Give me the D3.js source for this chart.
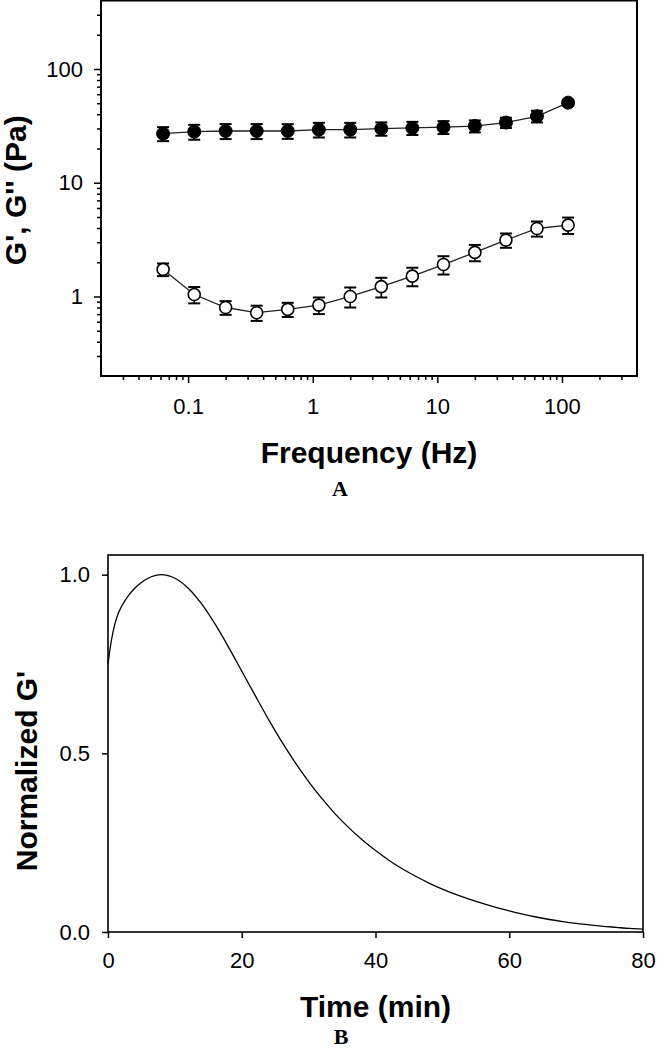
<!DOCTYPE html>
<html>
<head>
<meta charset="utf-8">
<script src="https://cdn.jsdelivr.net/npm/d3@7"></script>
<style>
  html, body { margin: 0; padding: 0; background: #fff; }
  svg { display: block; }
  text { font-family: "Liberation Sans", Arial, sans-serif; fill: #000; }
</style>
</head>
<body>
<script>
// ---------- Panel A data ----------
const freqHz = [0.063, 0.112, 0.2, 0.355, 0.63, 1.12, 2, 3.55, 6.3, 11.2, 20, 35.5, 63, 112];
const gPrime = [27.0, 28.1, 28.5, 28.5, 28.5, 29.3, 29.3, 29.9, 30.3, 30.8, 31.5, 33.8, 38.4, 50.6];
const gPrimeErr = [3.8, 4.2, 4.3, 4.3, 4.2, 4.3, 4.3, 4.0, 4.0, 4.0, 3.8, 3.5, 4.5, 3.0];
const gDouble = [1.73, 1.04, 0.80, 0.72, 0.77, 0.84, 1.0, 1.22, 1.51, 1.91, 2.44, 3.13, 3.96, 4.24];
const gDoubleErr = [0.22, 0.17, 0.11, 0.11, 0.11, 0.14, 0.2, 0.24, 0.28, 0.35, 0.4, 0.45, 0.6, 0.7];
const freqTicks = [0.1, 1, 10, 100];
const modulusTicks = [1, 10, 100];

// ---------- Panel B data ----------
const timeMin = [0, 0.25, 0.5, 1, 1.5, 2, 3, 4, 5, 6, 7, 8, 9, 10, 12, 14, 16, 18, 20, 22, 24, 26, 28, 30,
                 32, 34, 36, 38, 40, 42, 44, 46, 48, 50, 52, 54, 56, 58, 60, 62, 64, 66, 68, 70, 72, 74, 76, 78, 80];
const normG = [0.75, 0.785, 0.815, 0.86, 0.89, 0.91, 0.94, 0.962, 0.978, 0.99, 0.997, 1.0, 0.997, 0.99,
               0.962, 0.918, 0.862, 0.798, 0.73, 0.662, 0.595, 0.532, 0.474, 0.421,
               0.373, 0.330, 0.292, 0.258, 0.228, 0.201, 0.177, 0.156, 0.137, 0.120, 0.105, 0.092, 0.080,
               0.069, 0.059, 0.050, 0.042, 0.035, 0.029, 0.024, 0.020, 0.016, 0.013, 0.010, 0.008];
const timeTicks = [0, 20, 40, 60, 80];
const normTicks = [0, 0.5, 1.0];

const W = 658, H = 1050;
const svg = d3.select("body").append("svg").attr("width", W).attr("height", H);
svg.append("rect").attr("width", W).attr("height", H).attr("fill", "#fff");

const TICK_FS = 22, TITLE_FS = 30;

// ================= Panel A =================
const A = { l: 101, r: 637, t: 0.5, b: 376 };
const xA = d3.scaleLog().domain([0.02, 400]).range([A.l, A.r]);
const yA = d3.scaleLog().domain([0.2, 400]).range([A.b, A.t]);

function minorTicks(lo, hi) {
  const out = [];
  for (let e = -3; e <= 3; e++) {
    for (let m = 1; m <= 9; m++) {
      const v = m * Math.pow(10, e);
      if (v >= lo * 0.999 && v <= hi * 1.001) out.push(v);
    }
  }
  return out;
}
const gA = svg.append("g");

gA.append("g").attr("transform", `translate(0,${A.b})`)
  .call(d3.axisBottom(xA).tickValues(minorTicks(0.02, 400).filter(v => !freqTicks.includes(v) && v > 0.0201 && v < 399)).tickSize(4).tickFormat(""))
  .call(g => g.select(".domain").remove())
  .call(g => g.selectAll("line").attr("stroke-width", 1.5));
gA.append("g").attr("transform", `translate(${A.l},0)`)
  .call(d3.axisLeft(yA).tickValues(minorTicks(0.2, 400).filter(v => !modulusTicks.includes(v) && v > 0.201 && v < 399)).tickSize(4).tickFormat(""))
  .call(g => g.select(".domain").remove())
  .call(g => g.selectAll("line").attr("stroke-width", 1.5));

gA.append("g").attr("transform", `translate(0,${A.b})`)
  .call(d3.axisBottom(xA).tickValues(freqTicks).tickSize(7).tickPadding(15).tickFormat(d => String(d)))
  .call(g => g.select(".domain").remove())
  .call(g => g.selectAll("line").attr("stroke-width", 1.5))
  .call(g => g.selectAll("text").attr("font-size", TICK_FS).attr("font-family", "Liberation Sans, Arial, sans-serif"));
gA.append("g").attr("transform", `translate(${A.l},0)`)
  .call(d3.axisLeft(yA).tickValues(modulusTicks).tickSize(7).tickPadding(11).tickFormat(d => String(d)))
  .call(g => g.select(".domain").remove())
  .call(g => g.selectAll("line").attr("stroke-width", 1.5))
  .call(g => g.selectAll("text").attr("font-size", TICK_FS).attr("font-family", "Liberation Sans, Arial, sans-serif"));

gA.append("rect").attr("x", A.l).attr("y", A.t).attr("width", A.r - A.l).attr("height", A.b - A.t)
  .attr("fill", "none").attr("stroke", "#000").attr("stroke-width", 2);

const lineA = (vals) => d3.line().x((d, i) => xA(freqHz[i])).y(d => yA(d))(vals);

function drawSeries(vals, errs, filled) {
  const g = gA.append("g");
  g.append("path").attr("d", lineA(vals)).attr("fill", "none").attr("stroke", "#222").attr("stroke-width", 1.3);
  const eb = g.selectAll(".eb").data(vals).enter().append("g");
  eb.append("line")
    .attr("x1", (d, i) => xA(freqHz[i])).attr("x2", (d, i) => xA(freqHz[i]))
    .attr("y1", (d, i) => yA(d + errs[i])).attr("y2", (d, i) => yA(d - errs[i]))
    .attr("stroke", "#000").attr("stroke-width", 1.6);
  [1, -1].forEach(s => {
    eb.append("line")
      .attr("x1", (d, i) => xA(freqHz[i]) - 6).attr("x2", (d, i) => xA(freqHz[i]) + 6)
      .attr("y1", (d, i) => yA(d + s * errs[i])).attr("y2", (d, i) => yA(d + s * errs[i]))
      .attr("stroke", "#000").attr("stroke-width", 2);
  });
  g.selectAll("circle").data(vals).enter().append("circle")
    .attr("cx", (d, i) => xA(freqHz[i])).attr("cy", d => yA(d))
    .attr("r", filled ? 6.5 : 6)
    .attr("fill", filled ? "#000" : "#fff")
    .attr("stroke", "#000").attr("stroke-width", filled ? 1 : 1.6);
}
drawSeries(gPrime, gPrimeErr, true);
drawSeries(gDouble, gDoubleErr, false);

gA.append("text").attr("transform", `translate(26,${(A.t + A.b) / 2 + 2}) rotate(-90)`)
  .attr("text-anchor", "middle").attr("font-size", TITLE_FS).attr("font-weight", "bold")
  .text("G', G'' (Pa)");
gA.append("text").attr("x", (A.l + A.r) / 2).attr("y", 463)
  .attr("text-anchor", "middle").attr("font-size", TITLE_FS).attr("font-weight", "bold")
  .text("Frequency (Hz)");
gA.append("text").attr("x", 340).attr("y", 496)
  .attr("text-anchor", "middle").attr("font-size", 22).attr("font-weight", "bold")
  .style("font-family", "Liberation Serif, Times New Roman, serif")
  .text("A");

// ================= Panel B =================
const B = { l: 108, r: 643, t: 555, b: 932 };
const xB = d3.scaleLinear().domain([0, 80]).range([B.l, B.r]);
const yB = d3.scaleLinear().domain([0, 1.055]).range([B.b, B.t]);
const gB = svg.append("g");

gB.append("g").attr("transform", `translate(0,${B.b})`)
  .call(d3.axisBottom(xB).tickValues(timeTicks).tickSize(6).tickPadding(14).tickFormat(d3.format("d")))
  .call(g => g.select(".domain").remove())
  .call(g => g.selectAll("line").attr("stroke-width", 1.5))
  .call(g => g.selectAll("text").attr("font-size", TICK_FS).attr("font-family", "Liberation Sans, Arial, sans-serif"));
gB.append("g").attr("transform", `translate(${B.l},0)`)
  .call(d3.axisLeft(yB).tickValues(normTicks).tickSize(6).tickPadding(12).tickFormat(d3.format(".1f")))
  .call(g => g.select(".domain").remove())
  .call(g => g.selectAll("line").attr("stroke-width", 1.5))
  .call(g => g.selectAll("text").attr("font-size", TICK_FS).attr("font-family", "Liberation Sans, Arial, sans-serif"));

gB.append("rect").attr("x", B.l).attr("y", B.t).attr("width", B.r - B.l).attr("height", B.b - B.t)
  .attr("fill", "none").attr("stroke", "#000").attr("stroke-width", 1.6);

gB.append("path")
  .attr("d", d3.line().curve(d3.curveMonotoneX).x((d, i) => xB(timeMin[i])).y(d => yB(d))(normG))
  .attr("fill", "none").attr("stroke", "#000").attr("stroke-width", 1.3);

gB.append("text").attr("transform", `translate(37,771) rotate(-90)`)
  .attr("text-anchor", "middle").attr("font-size", TITLE_FS).attr("font-weight", "bold")
  .text("Normalized G'");
gB.append("text").attr("x", (B.l + B.r) / 2).attr("y", 1017)
  .attr("text-anchor", "middle").attr("font-size", TITLE_FS).attr("font-weight", "bold")
  .text("Time (min)");
gB.append("text").attr("x", 341).attr("y", 1044)
  .attr("text-anchor", "middle").attr("font-size", 22).attr("font-weight", "bold")
  .style("font-family", "Liberation Serif, Times New Roman, serif")
  .text("B");
</script>
</body>
</html>
